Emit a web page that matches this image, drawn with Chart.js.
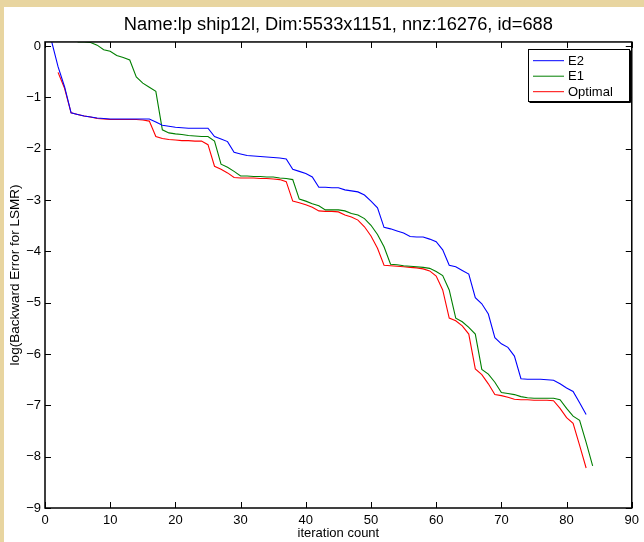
<!DOCTYPE html>
<html>
<head>
<meta charset="utf-8">
<script src="https://cdn.jsdelivr.net/npm/chart.js@4/dist/chart.umd.min.js"></script>
<style>
html,body{margin:0;padding:0;background:#fff;overflow:hidden}
#c{position:absolute;left:0;top:0}
</style>
</head>
<body>
<canvas id="c" width="644" height="542"></canvas>
<script>
const chartTitle = "Name:lp ship12l, Dim:5533x1151, nnz:16276, id=688";
const xLabel = "iteration count";
const yLabel = "log(Backward Error for LSMR)";
const seriesNames = ["E2", "E1", "Optimal"];
const seriesColors = ["#0000ff", "#007f00", "#ff0000"];
const xTicks = [0, 10, 20, 30, 40, 50, 60, 70, 80, 90];
const yTicks = [0, -1, -2, -3, -4, -5, -6, -7, -8, -9];

// E2: iterations 1..83
const e2Start = 1;
const e2Values = [
  0.10, -0.40, -0.79, -1.30, -1.33, -1.36, -1.38, -1.40, -1.41, -1.42,
  -1.42, -1.42, -1.42, -1.42, -1.42, -1.42, -1.48, -1.54, -1.56, -1.58,
  -1.59, -1.60, -1.60, -1.60, -1.60, -1.76, -1.81, -1.86, -2.07, -2.10,
  -2.13, -2.14, -2.15, -2.16, -2.17, -2.18, -2.20, -2.40, -2.44, -2.48,
  -2.55, -2.75, -2.75, -2.76, -2.76, -2.80, -2.82, -2.84, -2.90, -3.02,
  -3.15, -3.53, -3.56, -3.60, -3.64, -3.71, -3.72, -3.72, -3.76, -3.81,
  -3.97, -4.27, -4.30, -4.37, -4.44, -4.90, -5.02, -5.22, -5.68, -5.80,
  -5.87, -6.04, -6.48, -6.49, -6.49, -6.49, -6.50, -6.51, -6.58, -6.66,
  -6.73, -6.95, -7.18
];

// E1: iterations 5..84
const e1Start = 5;
const e1Values = [
  0.08, 0.08, 0.07, 0.02, -0.07, -0.10, -0.18, -0.22, -0.27, -0.60,
  -0.72, -0.80, -0.88, -1.63, -1.69, -1.71, -1.72, -1.74, -1.75, -1.76,
  -1.76, -1.85, -2.30, -2.36, -2.44, -2.53, -2.53, -2.54, -2.54, -2.55,
  -2.55, -2.57, -2.58, -2.60, -2.98, -3.02, -3.07, -3.11, -3.19, -3.19,
  -3.19, -3.21, -3.26, -3.29, -3.36, -3.49, -3.67, -3.91, -4.25, -4.26,
  -4.28, -4.29, -4.30, -4.31, -4.33, -4.39, -4.47, -4.75, -5.30, -5.37,
  -5.48, -5.61, -6.30, -6.39, -6.55, -6.75, -6.77, -6.79, -6.83, -6.85,
  -6.86, -6.86, -6.86, -6.86, -6.89, -7.06, -7.21, -7.29, -7.72, -8.18
];

// Optimal: iterations 2..83
const optStart = 2;
const optValues = [
  -0.51, -0.82, -1.30, -1.33, -1.36, -1.38, -1.41, -1.42, -1.43, -1.43,
  -1.43, -1.43, -1.43, -1.44, -1.46, -1.76, -1.80, -1.82, -1.83, -1.84,
  -1.84, -1.85, -1.85, -1.92, -2.34, -2.40, -2.47, -2.56, -2.57, -2.57,
  -2.57, -2.58, -2.58, -2.59, -2.60, -2.64, -3.02, -3.05, -3.09, -3.14,
  -3.21, -3.22, -3.22, -3.23, -3.29, -3.33, -3.39, -3.52, -3.70, -3.94,
  -4.27, -4.28, -4.29, -4.30, -4.31, -4.32, -4.34, -4.38, -4.48, -4.75,
  -5.30, -5.35, -5.45, -5.61, -6.29, -6.40, -6.58, -6.79, -6.81, -6.84,
  -6.88, -6.89, -6.89, -6.90, -6.90, -6.90, -6.91, -7.06, -7.24, -7.35,
  -7.78, -8.22
];

const FONT = "'Liberation Sans', Arial, Helvetica, sans-serif";
const toPoints = (start, vals) => vals.map((v, i) => ({ x: start + i, y: v }));

const series = [
  { name: seriesNames[0], color: seriesColors[0], pts: toPoints(e2Start, e2Values) },
  { name: seriesNames[1], color: seriesColors[1], pts: toPoints(e1Start, e1Values) },
  { name: seriesNames[2], color: seriesColors[2], pts: toPoints(optStart, optValues) }
];

const decor = {
  id: 'decor',
  beforeDraw(chart) {
    const ctx = chart.ctx;
    ctx.save();
    ctx.fillStyle = '#e8d5a0';
    ctx.fillRect(0, 0, chart.width, chart.height);
    ctx.fillStyle = '#ffffff';
    ctx.fillRect(4, 7, chart.width - 4, chart.height - 7);
    ctx.restore();
  },
  afterDraw(chart) {
    const ctx = chart.ctx;
    const a = chart.chartArea;
    const xs = chart.scales.x, ys = chart.scales.y;
    ctx.save();
    ctx.strokeStyle = '#000';
    ctx.lineWidth = 1.5;
    ctx.strokeRect(a.left, a.top, a.right - a.left, a.bottom - a.top);
    ctx.lineWidth = 1;
    const tl = 6;
    ctx.beginPath();
    xTicks.forEach(v => {
      const px = Math.round(xs.getPixelForValue(v)) + 0.5;
      ctx.moveTo(px, a.bottom); ctx.lineTo(px, a.bottom - tl);
      ctx.moveTo(px, a.top); ctx.lineTo(px, a.top + tl);
    });
    yTicks.forEach(v => {
      const py = Math.round(ys.getPixelForValue(v)) + 0.5;
      ctx.moveTo(a.left, py); ctx.lineTo(a.left + tl, py);
      ctx.moveTo(a.right, py); ctx.lineTo(a.right - tl, py);
    });
    ctx.stroke();

    // legend
    const bx = 528.5, by = 49.5, bw = 101, bh = 52;
    ctx.fillStyle = '#fff';
    ctx.fillRect(bx, by, bw, bh);
    ctx.strokeStyle = '#000';
    ctx.lineWidth = 1;
    ctx.strokeRect(bx, by, bw, bh);
    ctx.beginPath();
    ctx.moveTo(bx + bw + 1, by + 1); ctx.lineTo(bx + bw + 1, by + bh + 1);
    ctx.lineTo(bx + 1, by + bh + 1);
    ctx.stroke();
    ctx.font = '13px ' + FONT;
    ctx.textBaseline = 'middle';
    ctx.textAlign = 'left';
    chart.data.datasets.forEach((ds, i) => {
      const y = 60.7 + i * 15.5;
      ctx.strokeStyle = ds.borderColor;
      ctx.beginPath();
      ctx.moveTo(533, y); ctx.lineTo(564, y);
      ctx.stroke();
      ctx.fillStyle = '#000';
      ctx.fillText(ds.label, 568, y + 0.5);
    });
    ctx.restore();
  }
};

new Chart(document.getElementById('c'), {
  type: 'line',
  data: {
    datasets: series.map(s => ({
      label: s.name,
      data: s.pts,
      borderColor: s.color,
      backgroundColor: s.color,
      borderWidth: 1.1,
      pointRadius: 0,
      tension: 0,
      fill: false
    }))
  },
  options: {
    responsive: false,
    animation: false,
    devicePixelRatio: 1,
    layout: { padding: { left: 0, right: 8, top: 0, bottom: 0 } },
    plugins: {
      legend: { display: false },
      tooltip: { enabled: false },
      title: {
        display: true,
        fullSize: false,
        text: chartTitle,
        color: '#000',
        font: { family: FONT, size: 18.3, weight: 'normal' },
        padding: { top: 14, bottom: 6 }
      }
    },
    scales: {
      x: {
        type: 'linear',
        min: 0, max: 90,
        afterBuildTicks: s => { s.ticks = xTicks.map(v => ({ value: v })); },
        afterFit: s => { s.height = 34; },
        grid: { display: false, drawTicks: false },
        border: { display: false },
        ticks: { color: '#000', font: { family: FONT, size: 13 }, padding: 5, maxRotation: 0, autoSkip: false },
        title: { display: true, text: xLabel, color: '#000', font: { family: FONT, size: 13 }, padding: { top: 0, bottom: 1 } }
      },
      y: {
        type: 'linear',
        min: -9, max: 0.082,
        afterBuildTicks: s => { s.ticks = yTicks.map(v => ({ value: v })); },
        afterFit: s => { s.width = 45; },
        grid: { display: false, drawTicks: false },
        border: { display: false },
        ticks: {
          color: '#000', font: { family: FONT, size: 13 }, padding: 4, autoSkip: false,
          callback: v => String(v).replace('-', '\u2212')
        },
        title: { display: true, text: yLabel, color: '#000', font: { family: FONT, size: 13.5 }, padding: { top: 7, bottom: 0 } }
      }
    }
  },
  plugins: [decor]
});
</script>
</body>
</html>
